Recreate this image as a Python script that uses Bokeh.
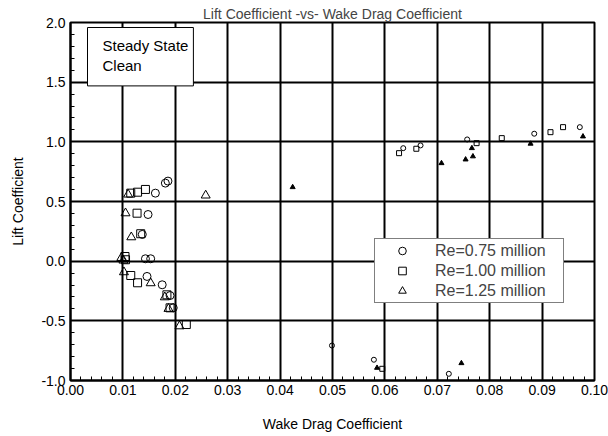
import numpy as np
from bokeh.plotting import figure
from bokeh.models import Range1d, FixedTicker, NumeralTickFormatter, Legend, LegendItem, Label
from bokeh.embed import file_html
from bokeh.resources import INLINE

# ---- data ----
cd_075 = [0.0181, 0.0186, 0.0162, 0.0148, 0.0137, 0.0143, 0.0153, 0.0146, 0.0175, 0.0190, 0.0196,
          0.0499, 0.0579, 0.0722, 0.0635, 0.0668, 0.0757, 0.0885, 0.0972]
cl_075 = [0.654, 0.671, 0.570, 0.391, 0.224, 0.020, 0.020, -0.128, -0.198, -0.288, -0.391,
          -0.707, -0.826, -0.944, 0.947, 0.970, 1.020, 1.068, 1.123]

cd_100 = [0.0115, 0.0128, 0.0143, 0.0127, 0.0134, 0.0104, 0.0105, 0.0115, 0.0128, 0.0184, 0.0190, 0.0221,
          0.0595, 0.0627, 0.0660, 0.0775, 0.0823, 0.0916, 0.0940]
cl_100 = [0.570, 0.578, 0.601, 0.402, 0.230, 0.039, 0.012, -0.120, -0.181, -0.282, -0.391, -0.531,
          -0.902, 0.905, 0.942, 0.989, 1.031, 1.081, 1.123]

cd_125 = [0.0110, 0.0105, 0.0116, 0.0097, 0.0101, 0.0102, 0.0153, 0.0180, 0.0187, 0.0208, 0.0258,
          0.0424, 0.0585, 0.0746, 0.0708, 0.0754, 0.0768, 0.0766, 0.0878, 0.0978]
cl_125 = [0.559, 0.402, 0.201, 0.028, 0.006, -0.092, -0.184, -0.302, -0.399, -0.545, 0.551,
          0.620, -0.894, -0.855, 0.821, 0.852, 0.878, 0.947, 0.984, 1.045]

series_labels = ["Re=0.75 million", "Re=1.00 million", "Re=1.25 million"]
x_ticks = [0.00, 0.01, 0.02, 0.03, 0.04, 0.05, 0.06, 0.07, 0.08, 0.09, 0.10]
y_ticks = [-1.0, -0.5, 0.0, 0.5, 1.0, 1.5, 2.0]
title_text = "Lift Coefficient -vs- Wake Drag Coefficient"
x_label = "Wake Drag Coefficient"
y_label = "Lift Coefficient"
note_text = "Steady State\nClean"

FONT = "Liberation Sans"

p = figure(frame_width=524, frame_height=358, output_backend="svg", toolbar_location=None,
           x_range=Range1d(0.0, 0.1), y_range=Range1d(-1.0, 2.0),
           min_border_left=70, min_border_right=14, min_border_top=22, min_border_bottom=56)
p.background_fill_color = "white"
p.border_fill_color = "white"
p.outline_line_color = "black"
p.outline_line_width = 2

p.title.text = title_text
p.title.align = "center"
p.title.text_font = FONT
p.title.text_font_size = "14px"
p.title.text_font_style = "normal"
p.title.standoff = 1

# axes
p.xaxis.ticker = FixedTicker(ticks=x_ticks, minor_ticks=list(np.round(np.arange(0, 0.1001, 0.002), 4)))
p.yaxis.ticker = FixedTicker(ticks=y_ticks, minor_ticks=list(np.round(np.arange(-1.0, 2.001, 0.1), 2)))
p.xaxis.formatter = NumeralTickFormatter(format="0.00")
p.yaxis.formatter = NumeralTickFormatter(format="0.0")
for ax in (p.xaxis, p.yaxis):
    ax.axis_line_color = "black"
    ax.axis_line_width = 2
    ax.major_tick_in = 0
    ax.major_tick_out = 0
    ax.minor_tick_in = 4
    ax.minor_tick_out = 0
    ax.minor_tick_line_color = "black"
    ax.minor_tick_line_width = 1
    ax.major_label_text_font = FONT
    ax.major_label_text_font_size = "14px"
    ax.major_label_text_color = "black"
    ax.axis_label_text_font = FONT
    ax.axis_label_text_font_size = "14px"
    ax.axis_label_text_font_style = "normal"
    ax.axis_label_text_color = "black"
p.xaxis.axis_label = x_label
p.yaxis.axis_label = y_label
p.xaxis.major_label_standoff = 4
p.yaxis.major_label_standoff = 5
p.xaxis.axis_label_standoff = 18
p.yaxis.axis_label_standoff = 12

p.grid.grid_line_color = "black"
p.grid.grid_line_width = 2
p.xgrid.ticker = FixedTicker(ticks=x_ticks)
p.ygrid.ticker = FixedTicker(ticks=y_ticks)

markers = ["circle", "square", "triangle"]
data = [(cd_075, cl_075), (cd_100, cl_100), (cd_125, cl_125)]
legend_items = []
for (cd, cl), mk, lab in zip(data, markers, series_labels):
    cd = np.array(cd)
    cl = np.array(cl)
    low = cd < 0.03
    big = 9 if mk == "triangle" else 8
    p.scatter(cd[low], cl[low], marker=mk, size=big, fill_color=None,
              line_color="black", line_width=1)
    p.scatter(cd[~low], cl[~low], marker=mk, size=5,
              fill_color="black" if mk == "triangle" else None,
              line_color="black", line_width=1)
    # legend swatch renderer (off-canvas point, only shown in the legend)
    r_leg = p.scatter([np.nan], [np.nan], marker=mk, size=6,
                      fill_color=None, line_color="black", line_width=1)
    legend_items.append(LegendItem(label=lab, renderers=[r_leg]))

legend = Legend(items=legend_items, location=(304, 77), margin=0, padding=2,
                glyph_width=50, glyph_height=19, label_height=19, label_width=126, spacing=1,
                label_standoff=8, label_text_font=FONT, label_text_font_size="16px",
                border_line_color="black", border_line_width=1,
                background_fill_color="white", background_fill_alpha=1.0)
p.add_layout(legend, "center")

note = Label(x=17, y=353, x_units="screen", y_units="screen", text=note_text,
             anchor="top_left", text_font=FONT, text_font_size="15px", text_color="black",
             border_line_color="black", border_line_width=1, background_fill_color="white",
             padding=(15, 5, 9, 12))
p.add_layout(note)

open("out.html", "w").write(file_html(p, INLINE))
